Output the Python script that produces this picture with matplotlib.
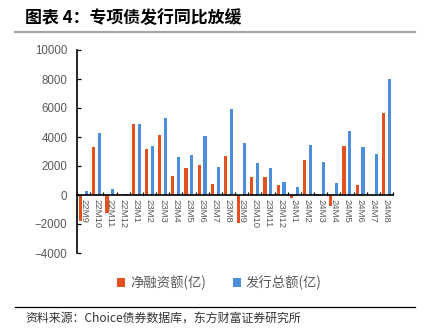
import matplotlib.pyplot as plt
from matplotlib.lines import Line2D
import numpy as np

months = ['22M9', '22M10', '22M11', '22M12', '23M1', '23M2', '23M3', '23M4',
          '23M5', '23M6', '23M7', '23M8', '23M9', '23M10', '23M11', '23M12',
          '24M1', '24M2', '24M3', '24M4', '24M5', '24M6', '24M7', '24M8']
# 净融资额(亿)
net_financing = [-1800, 3300, -1250, 0, 4900, 3190, 4160, 1320,
                 1870, 2060, 740, 2680, -1950, 1270, 1270, 670,
                 -230, 2420, 90, -740, 3390, 670, 0, 5680]
# 发行总额(亿)
total_issuance = [250, 4270, 440, 80, 4900, 3370, 5310, 2630,
                  2750, 4040, 1960, 5960, 3560, 2190, 1870, 900,
                  530, 3460, 2290, 850, 4390, 3330, 2820, 8010]

red = '#E4501E'
blue = '#4D8EDA'
grey = '#595959'

plt.rcParams['font.family'] = ['Liberation Sans', 'Noto Sans CJK SC']
cjk = ['Noto Sans CJK SC', 'DejaVu Sans']

W, H = 426, 336
fig = plt.figure(figsize=(W / 100, H / 100), dpi=100)
ax = fig.add_axes([77 / W, 1 - 253 / H, 316 / W, 203 / H])

x = np.arange(len(months))
b1 = ax.bar(x - 0.22, net_financing, width=0.25, color=red)
b2 = ax.bar(x + 0.22, total_issuance, width=0.25, color=blue)

ax.set_xlim(-0.5, len(months) - 0.5)
ax.set_ylim(-4000, 10000)
ax.set_yticks(range(-4000, 10001, 2000))

ax.spines[['top', 'right']].set_visible(False)
ax.spines['bottom'].set_position(('data', 0))
ax.spines['left'].set_linewidth(1.2)
ax.spines['bottom'].set_linewidth(1.2)

ax.set_xticks(x)
ax.set_xticklabels(months, rotation=-90, fontsize=6.8, color=grey)
ax.tick_params(axis='x', which='major', length=0, pad=3)
ax.set_xticks(np.arange(-0.5, len(months)), minor=True)
ax.tick_params(axis='x', which='minor', direction='in', length=2.5, width=0.9)
ax.tick_params(axis='y', direction='in', length=3, width=0.9,
               labelsize=8.3, labelcolor=grey, pad=7)

leg = fig.legend([b1, b2], ['净融资额(亿)', '发行总额(亿)'], loc='center',
                 bbox_to_anchor=(0.515, 1 - 283 / H), ncol=2, frameon=False,
                 handlelength=0.6, handleheight=0.6, handletextpad=0.4,
                 columnspacing=2.0, prop={'family': cjk, 'size': 9.6})
for t in leg.get_texts():
    t.set_color(grey)

fig.text(25 / W, 1 - 18 / H, '图表 4：专项债发行同比放缓', fontsize=12.2,
         fontweight='bold', va='center', ha='left', family=cjk)
fig.add_artist(Line2D([15 / W, 415 / W], [1 - 32 / H] * 2, color='#A6A6A6', lw=1.6))
fig.add_artist(Line2D([15 / W, 415 / W], [1 - 307 / H] * 2, color='black', lw=0.9))
fig.text(25 / W, 1 - 318 / H, '资料来源：Choice债券数据库，东方财富证券研究所',
         fontsize=8.6, va='center', ha='left', color='#333333', family=cjk)

fig.savefig('out.png', dpi=100)
